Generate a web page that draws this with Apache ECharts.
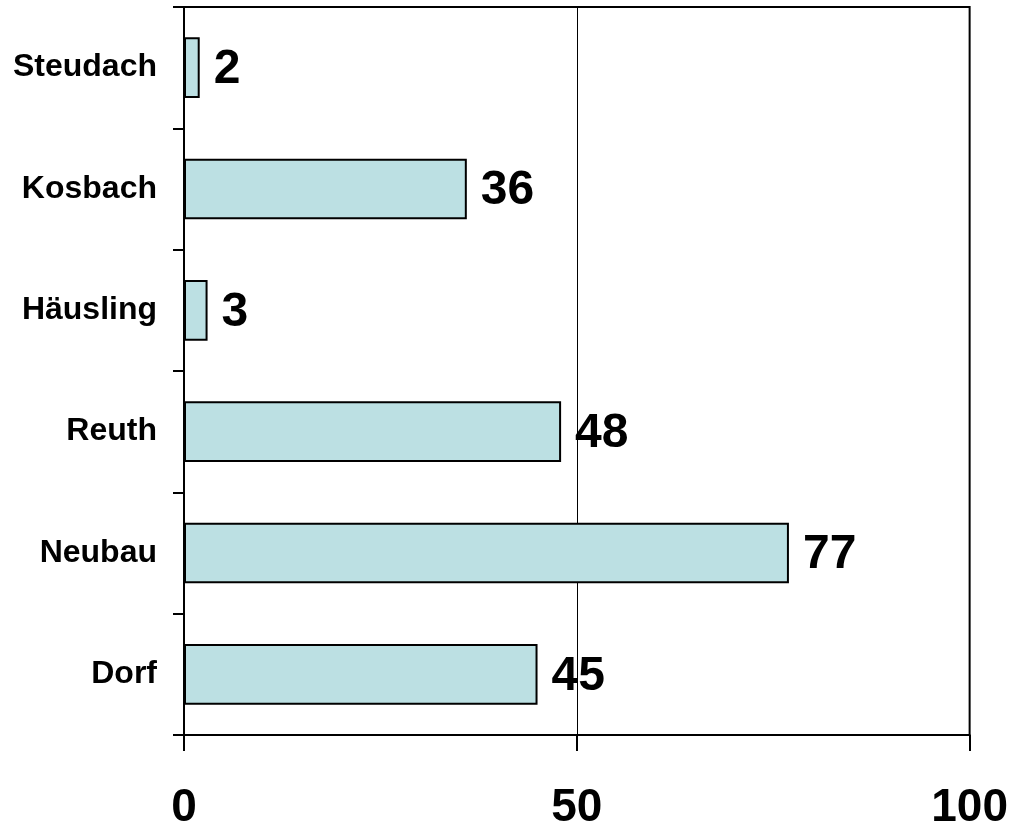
<!DOCTYPE html>
<html>
<head>
<meta charset="utf-8">
<script src="https://cdn.jsdelivr.net/npm/echarts@6/dist/echarts.min.js"></script>
<style>html,body{margin:0;padding:0;background:#fff}#c{width:1011px;height:831px}</style>
</head>
<body>
<div id="c"></div>
<script>
const categories = ['Steudach', 'Kosbach', 'Häusling', 'Reuth', 'Neubau', 'Dorf'];
const values = [2, 36, 3, 48, 77, 45];
const xTicks = [0, 50, 100];

const FONT = '"Liberation Sans", Arial, sans-serif';
const chart = echarts.init(document.getElementById('c'), null, {renderer: 'canvas'});
chart.setOption({
  animation: false,
  backgroundColor: '#fff',
  grid: {left: 184, right: 40, top: 7, bottom: 94, show: true, borderColor: '#000', borderWidth: 2, containLabel: false},
  xAxis: {
    type: 'value', min: xTicks[0], max: xTicks[xTicks.length - 1], interval: 50,
    axisLine: {show: true, lineStyle: {color: '#000', width: 2}},
    axisTick: {show: true, length: 16, lineStyle: {color: '#000', width: 2}},
    axisLabel: {color: '#000', fontSize: 46, fontWeight: 'bold', fontFamily: FONT, margin: 50},
    splitLine: {show: true, lineStyle: {color: '#000', width: 1}}
  },
  yAxis: {
    type: 'category', data: categories, inverse: true,
    axisLine: {show: true, lineStyle: {color: '#000', width: 2}},
    axisTick: {show: true, length: 11, lineStyle: {color: '#000', width: 2}},
    axisLabel: {color: '#000', fontSize: 32, fontWeight: 'bold', fontFamily: FONT, margin: 27},
    splitLine: {show: false}
  },
  series: [{
    type: 'bar', data: values, barWidth: '50%',
    itemStyle: {color: '#BCE0E3', borderColor: '#000', borderWidth: 2},
    label: {show: true, position: 'right', distance: 14, offset: [0, 2], color: '#000', fontSize: 48, fontWeight: 'bold', fontFamily: FONT}
  }]
});
</script>
</body>
</html>
